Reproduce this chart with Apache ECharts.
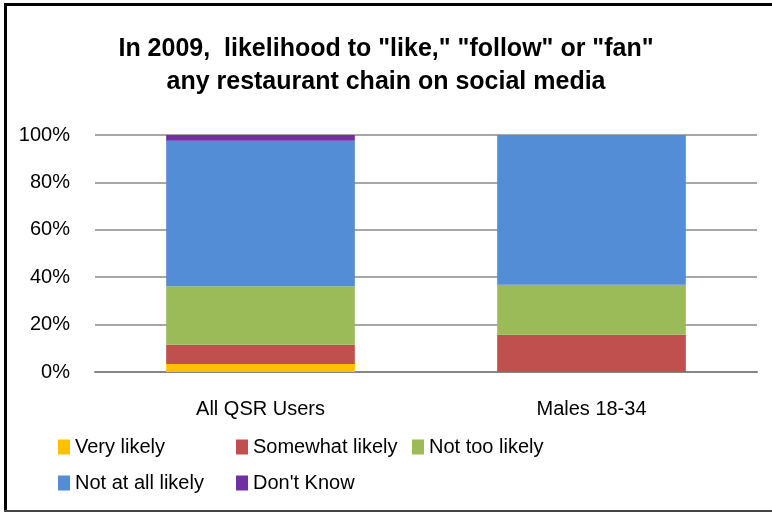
<!DOCTYPE html>
<html>
<head>
<meta charset="utf-8">
<script src="https://cdn.jsdelivr.net/npm/echarts@6/dist/echarts.min.js"></script>
<style>
  html, body { margin: 0; padding: 0; background: #fff; }
  #chart { width: 772px; height: 512px; }
</style>
</head>
<body>
<div id="chart"></div>
<script>
// 数据
const categories = ['All QSR Users', 'Males 18-34'];
const seriesNames = ['Very likely', 'Somewhat likely', 'Not too likely', 'Not at all likely', "Don't Know"];
const veryLikely = [3.4, 0];
const somewhatLikely = [8.1, 15.7];
const notTooLikely = [24.7, 21.1];
const notAtAllLikely = [61.4, 63.2];
const dontKnow = [2.4, 0];
const yTicks = [0, 20, 40, 60, 80, 100];

const colors = ['#FFC000', '#C0504D', '#9BBB59', '#538DD5', '#7030A0'];
const values = [veryLikely, somewhatLikely, notTooLikely, notAtAllLikely, dontKnow];
const fontFamily = '"Liberation Sans", "DejaVu Sans", sans-serif';

const series = [];
for (let i = 0; i < seriesNames.length; i++) {
  series.push({
    name: seriesNames[i],
    type: 'bar',
    stack: 'total',
    barCategoryGap: '43%',
    itemStyle: { color: colors[i] },
    data: values[i],
  });
}

const legendText = { color: '#000', fontSize: 20, fontFamily: fontFamily };
const legendBase = {
  orient: 'vertical',
  top: 432,
  itemWidth: 12,
  itemHeight: 15,
  itemGap: 16,
  icon: 'rect',
  textStyle: legendText,
};

const option = {
  animation: false,
  color: colors,
  title: {
    text: 'In 2009,  likelihood to "like," "follow" or "fan"\nany restaurant chain on social media',
    left: 'center',
    top: 28,
    textStyle: {
      color: '#000',
      fontSize: 25,
      fontWeight: 'bold',
      lineHeight: 33,
      fontFamily: fontFamily,
    },
  },
  grid: {
    left: 95,
    right: 15,
    top: 135,
    bottom: 140,
  },
  legend: [
    Object.assign({}, legendBase, { left: 53, data: [seriesNames[0], seriesNames[3]] }),
    Object.assign({}, legendBase, { left: 231, data: [seriesNames[1], seriesNames[4]] }),
    Object.assign({}, legendBase, { left: 407, data: [seriesNames[2]] }),
  ],
  xAxis: {
    type: 'category',
    data: categories,
    axisLine: { show: true, lineStyle: { color: '#868686', width: 2 } },
    axisTick: { show: false },
    axisLabel: { color: '#000', fontSize: 20, margin: 27, fontFamily: fontFamily },
  },
  yAxis: {
    type: 'value',
    min: yTicks[0],
    max: yTicks[yTicks.length - 1],
    interval: 20,
    axisLine: { show: false },
    axisTick: { show: false },
    axisLabel: {
      color: '#000',
      fontSize: 20,
      margin: 25,
      fontFamily: fontFamily,
      formatter: '{value}%',
    },
    splitLine: { show: true, lineStyle: { color: '#a6a6a6', width: 2 } },
  },
  graphic: [
    // 外边框
    { type: 'rect', shape: { x: 4, y: 3, width: 3, height: 509 }, style: { fill: '#000' } },
    { type: 'rect', shape: { x: 4, y: 3, width: 768, height: 3 }, style: { fill: '#000' } },
    { type: 'rect', shape: { x: 4, y: 510, width: 768, height: 2 }, style: { fill: '#444' } },
  ],
  series,
};

const myChart = echarts.init(document.getElementById('chart'));
myChart.setOption(option);
</script>
</body>
</html>
